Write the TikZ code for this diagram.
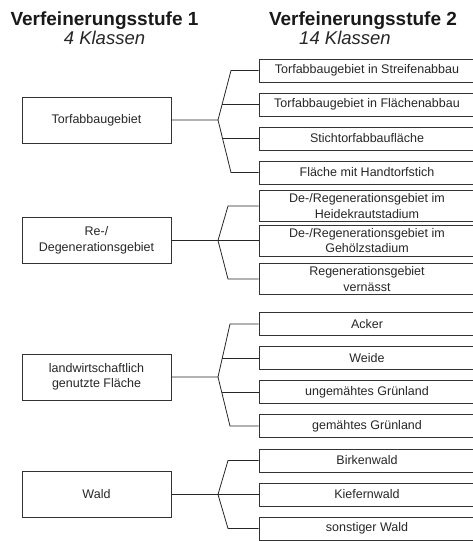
\documentclass[tikz,border=0pt]{standalone}
\usepackage{fontspec}
\setmainfont{Liberation Sans}
\usetikzlibrary{positioning}

\tikzset{
  cls/.style={draw=black!80,line width=0.8pt,minimum width=149pt,minimum height=46pt,
    align=center,inner sep=1pt,text=black!85,font=\fontsize{12.5}{15.5}\selectfont},
  sub/.style={draw=black!80,line width=0.8pt,minimum width=216pt,minimum height=23pt,
    align=center,inner sep=1pt,text=black!85,font=\fontsize{12.5}{15.5}\selectfont},
  subtall/.style={sub,minimum height=31pt},
  head/.style={anchor=base,text=black!90,font=\fontsize{19}{22}\selectfont\bfseries},
  count/.style={anchor=base,text=black!85,font=\fontsize{18.5}{21}\selectfont\itshape},
  link/.style={draw=black!85,line width=0.8pt}
}

\begin{document}
\begin{tikzpicture}[x=1pt,y=-1pt,node distance=34pt,on grid]
\useasboundingbox (0,0) rectangle (472,541);

\node[head] (h1) at (104.5,25) {Verfeinerungsstufe 1};
\node[count] (n1) at (104.5,44) {4 Klassen};
\node[head] (h2) at (363,25) {Verfeinerungsstufe 2};
\node[count] (n2) at (345,44) {14 Klassen};

% Torfabbau
\node[cls] (l1) at (96.5,120) {Torfabbaugebiet};
\node[sub] (r1a) at (367,70.5) {Torfabbaugebiet in Streifenabbau};
\node[sub] (r1b) [below=of r1a] {Torfabbaugebiet in Flächenabbau};
\node[sub] (r1c) [below=of r1b] {Stichtorfabbaufläche};
\node[sub] (r1d) [below=of r1c] {Fläche mit Handtorfstich};

\coordinate (j1) at (218,120);
\coordinate (t1) at (231,70.5);
\coordinate (u1) at (231,172.5);
\coordinate (m1b) at (222.1,104.5);
\coordinate (m1c) at (222.5,138.5);
\draw[link] (l1) -- (j1) -- (t1) -- (r1a);
\draw[link] (j1) -- (u1) -- (r1d);
\draw[link] (m1b) -- (r1b);
\draw[link] (m1c) -- (r1c);

% Re-/Degeneration
\node[cls] (l2) at (96.5,240.5) {Re-/\\Degenerationsgebiet};
\node[subtall] (r2a) at (367,206) {De-/Regenerationsgebiet im\\Heidekrautstadium};
\node[subtall] (r2b) [below=34.5pt of r2a] {De-/Regenerationsgebiet im\\Gehölzstadium};
\node[subtall] (r2c) [below=38.5pt of r2b] {Regenerationsgebiet\\vernässt};

\coordinate (j2) at (218,240.5);
\coordinate (s2) at (195,240.5);
\coordinate (t2) at (228,206);
\coordinate (u2) at (228,279);
\draw[link] (l2) -- (j2) -- (t2) -- (r2a);
\draw[link] (j2) -- (u2) -- (r2c);
\draw[link] (j2) -- (r2b);
\draw[link,line width=1.8pt] (s2) -- (j2);

% Landwirtschaft
\node[cls] (l3) at (96.5,377) {landwirtschaftlich\\genutzte Fläche};
\node[sub] (r3a) at (367,324) {Acker};
\node[sub] (r3b) [below=of r3a] {Weide};
\node[sub] (r3c) [below=of r3b] {ungemähtes Grünland};
\node[sub] (r3d) [below=of r3c] {gemähtes Grünland};

\coordinate (j3) at (218,377);
\coordinate (t3) at (230,324);
\coordinate (u3) at (230,426);
\coordinate (m3b) at (222.3,358);
\coordinate (m3c) at (221.7,392);
\draw[link] (l3) -- (j3) -- (t3) -- (r3a);
\draw[link] (j3) -- (u3) -- (r3d);
\draw[link] (m3b) -- (r3b);
\draw[link] (m3c) -- (r3c);

% Wald
\node[cls] (l4) at (96.5,494.5) {Wald};
\node[sub] (r4a) at (367,460.5) {Birkenwald};
\node[sub] (r4b) [below=of r4a] {Kiefernwald};
\node[sub] (r4c) [below=of r4b] {sonstiger Wald};

\coordinate (j4) at (218,494.5);
\coordinate (t4) at (228,460.5);
\coordinate (u4) at (228,528.5);
\draw[link] (l4) -- (j4) -- (t4) -- (r4a);
\draw[link] (j4) -- (u4) -- (r4c);
\draw[link] (j4) -- (r4b);
\end{tikzpicture}
\end{document}
